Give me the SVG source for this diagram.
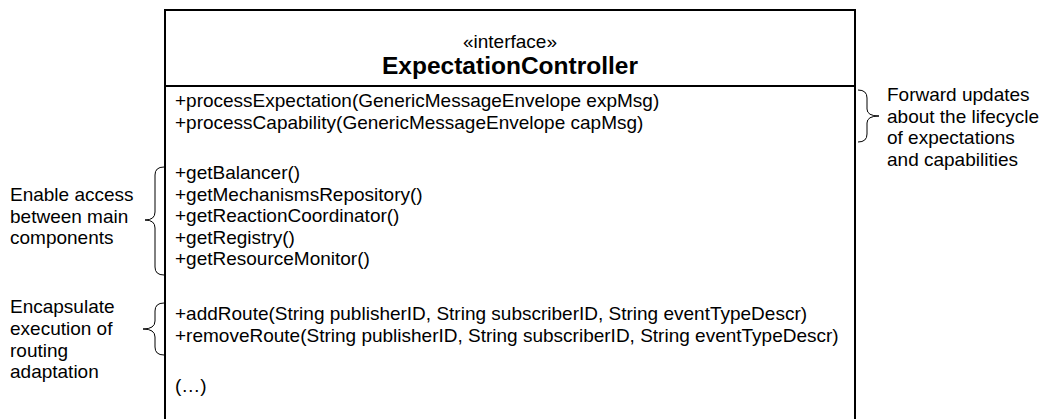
<svg xmlns="http://www.w3.org/2000/svg" width="1053" height="419" viewBox="0 0 1053 419">
<style>
text{font-family:"Liberation Sans",Arial,Helvetica,sans-serif;font-size:19px;fill:#000}
.title{font-weight:bold;font-size:24.5px}
.brace{fill:none;stroke:#000;stroke-width:1}
.box{fill:#fff;stroke:#000;stroke-width:2}
</style>
<rect width="1053" height="419" fill="#fff"/>
<g id="ExpectationController">
<rect class="box" x="165" y="10" width="690" height="420"/>
<line x1="165" y1="86" x2="855" y2="86" stroke="#000" stroke-width="2"/>
<text x="510" y="48" text-anchor="middle">«interface»</text>
<text class="title" x="510" y="74" text-anchor="middle">ExpectationController</text>
<text x="175" y="107">+processExpectation(GenericMessageEnvelope expMsg)</text>
<text x="175" y="129">+processCapability(GenericMessageEnvelope capMsg)</text>
<text x="175" y="179">+getBalancer()</text>
<text x="175" y="200.5">+getMechanismsRepository()</text>
<text x="175" y="222">+getReactionCoordinator()</text>
<text x="175" y="243.5">+getRegistry()</text>
<text x="175" y="265">+getResourceMonitor()</text>
<text x="175" y="320">+addRoute(String publisherID, String subscriberID, String eventTypeDescr)</text>
<text x="175" y="342">+removeRoute(String publisherID, String subscriberID, String eventTypeDescr)</text>
<text x="175" y="392">(…)</text>
</g>
<g id="note-forward">
<text x="887" y="101">Forward updates</text>
<text x="887" y="123">about the lifecycle</text>
<text x="887" y="144">of expectations</text>
<text x="887" y="166">and capabilities</text>
</g>
<g id="note-access">
<text x="10" y="201">Enable access</text>
<text x="10" y="223">between main</text>
<text x="10" y="244">components</text>
</g>
<g id="note-routing">
<text x="10" y="313">Encapsulate</text>
<text x="10" y="335">execution of</text>
<text x="10" y="357">routing</text>
<text x="10" y="378">adaptation</text>
</g>
<g id="connectors">
<path class="brace" d="M858,90 Q867,90 867,98 L867,109 Q867,116 879,116 Q867,116 867,123 L867,134 Q867,142 858,142"/>
<path class="brace" d="M164,167 Q155,167 155,175 L155,212 Q155,220 145,220 Q155,220 155,228 L155,267 Q155,275 164,275"/>
<path class="brace" d="M164,303 Q155,303 155,311 L155,321 Q155,329 143,329 Q155,329 155,337 L155,347 Q155,355 164,355"/>
</g>
</svg>
